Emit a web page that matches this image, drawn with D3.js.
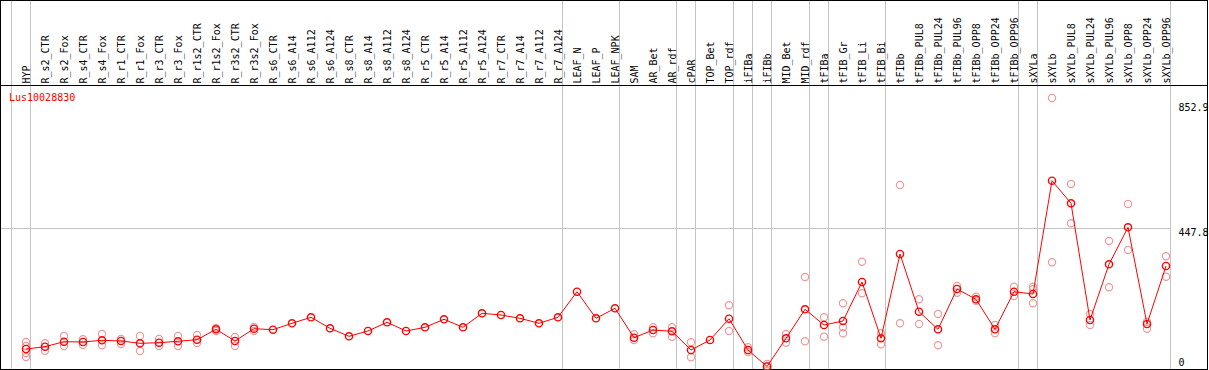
<!DOCTYPE html>
<html>
<head>
<meta charset="utf-8">
<script src="https://cdn.jsdelivr.net/npm/d3@7"></script>
<style>
body { margin: 0; background: #fff; }
text { font-family: 'DejaVu Sans Mono', monospace; font-size: 10px; }
</style>
</head>
<body>
<div id="chart"></div>
<script>
var geneName = 'Lus10028830';

var samples = ['HYP', 'R_s2_CTR', 'R_s2_Fox', 'R_s4_CTR', 'R_s4_Fox', 'R_r1_CTR', 'R_r1_Fox',
  'R_r3_CTR', 'R_r3_Fox', 'R_r1s2_CTR', 'R_r1s2_Fox', 'R_r3s2_CTR', 'R_r3s2_Fox', 'R_s6_CTR',
  'R_s6_A14', 'R_s6_A112', 'R_s6_A124', 'R_s8_CTR', 'R_s8_A14', 'R_s8_A112', 'R_s8_A124',
  'R_r5_CTR', 'R_r5_A14', 'R_r5_A112', 'R_r5_A124', 'R_r7_CTR', 'R_r7_A14', 'R_r7_A112',
  'R_r7_A124', 'LEAF_N', 'LEAF_P', 'LEAF_NPK', 'SAM', 'AR_Bet', 'AR_rdf', 'cPAR', 'TOP_Bet',
  'TOP_rdf', 'iFIBa', 'iFIBb', 'MID_Bet', 'MID_rdf', 'tFIBa', 'tFIB_Gr', 'tFIB_Li', 'tFIB_Bi',
  'tFIBb', 'tFIBb_PUL8', 'tFIBb_PUL24', 'tFIBb_PUL96', 'tFIBb_OPP8', 'tFIBb_OPP24',
  'tFIBb_OPP96', 'sXYLa', 'sXYLb', 'sXYLb_PUL8', 'sXYLb_PUL24', 'sXYLb_PUL96', 'sXYLb_OPP8',
  'sXYLb_OPP24', 'sXYLb_OPP96'];

// mean expression per sample
var means = [56.6, 64.0, 80.2, 79.2, 84.7, 82.4, 75.0, 76.9, 81.5, 86.6, 120.3, 82.4, 122.2,
  119.0, 139.7, 159.1, 123.5, 97.6, 114.8, 142.9, 114.8, 126.7, 152.6, 126.7, 172.0, 166.5,
  155.8, 139.7, 159.1, 241.8, 155.8, 188.2, 93.1, 118.0, 113.8, 53.3, 85.7, 154.5, 53.3, 0,
  91.2, 184.9, 134.2, 147.1, 273.2, 91.2, 363.7, 177.2, 120.3, 250.6, 217.3, 120.3, 241.8,
  234.4, 600.7, 527.6, 150.3, 330.4, 450.0, 137.4, 324.9];

// individual replicates (empty where hidden under the mean)
var replicates = [
  [79.2, 66.3, 43.6, 30.7], [75.0, 51.1], [98.6, 66.3], [87.9, 69.5], [105.1, 68.5],
  [88.9, 72.7], [98.6, 50.1], [88.9, 66.3], [98.6, 66.3], [101.8, 76.0], [124.5, 114.8],
  [95.4, 66.3], [127.7, 114.8], [], [], [], [], [], [], [], [], [], [], [], [], [], [], [],
  [], [], [], [], [104.1, 85.7], [126.7, 107.3], [126.7, 96.3], [78.2, 29.7], [],
  [197.9, 114.8], [62.1, 46.9], [8.1, 0], [105.1, 76.9], [289.4, 81.5], [159.1, 96.3],
  [204.3, 126.7, 107.3], [338.8, 236.7], [107.3, 71.8], [586.8, 139.7], [217.3, 137.4],
  [169.7, 68.5], [260.3, 238.6], [225.7, 212.7], [134.2, 107.3], [258.0, 227.9],
  [258.0, 249.6, 204.3], [868.1, 336.9], [590.0, 463.0], [169.7, 134.2], [405.8, 256.1],
  [525.4, 376.7], [144.8, 122.2], [356.3, 290.3]];

// a grey separator is drawn after each of these samples
var groupEnds = ['HYP', 'R_r7_A124', 'LEAF_NPK', 'AR_rdf', 'cPAR', 'TOP_rdf', 'iFIBa', 'iFIBb',
  'MID_rdf', 'tFIBa', 'tFIB_Bi', 'tFIBb_OPP96', 'sXYLa', 'sXYLb_OPP96'];

var yTicks = [0, 447.8, 852.9];

var width = 1209;
var height = 370;
var headerY = 85.5;

var x = d3.scalePoint().domain(samples).range([26, 1166]);
var y = d3.scaleLinear().domain([0, 852.9]).range([366.5, 102.7]);

var svg = d3.select('#chart').append('svg')
  .attr('width', width)
  .attr('height', height);

// separators
var sepX = [x(samples[0]) - x.step() + 4.5].concat(groupEnds.map(function(s) {
  return x(s) + 4.5;
}));
svg.selectAll().data(sepX).enter()
  .append('line')
  .attr('x1', function(d) { return d; })
  .attr('x2', function(d) { return d; })
  .attr('y1', 0)
  .attr('y2', height)
  .attr('stroke', '#c4c4c4')
  .attr('shape-rendering', 'crispEdges');

// horizontal guide at the middle tick
svg.selectAll().data(yTicks.filter(function(v) { return v > 0 && v < 852.9; })).enter()
  .append('line')
  .attr('x1', 0)
  .attr('x2', x(samples[samples.length - 1]) + 4.5)
  .attr('y1', function(d) { return Math.round(y(d)) + 0.5; })
  .attr('y2', function(d) { return Math.round(y(d)) + 0.5; })
  .attr('stroke', '#c4c4c4')
  .attr('shape-rendering', 'crispEdges');

// frame and header rule
svg.append('rect')
  .attr('x', 0.5).attr('y', 0.5)
  .attr('width', 1207).attr('height', 369)
  .attr('fill', 'none')
  .attr('stroke', '#000')
  .attr('shape-rendering', 'crispEdges');

svg.append('line')
  .attr('x1', 0).attr('x2', 1207.5)
  .attr('y1', headerY).attr('y2', headerY)
  .attr('stroke', '#000')
  .attr('shape-rendering', 'crispEdges');

// rotated sample labels
svg.selectAll().data(samples).enter()
  .append('text')
  .attr('transform', function(d) {
    return 'translate(' + (x(d) + 3.5) + ',83.5) rotate(-90)';
  })
  .attr('fill', '#000')
  .text(function(d) { return d; });

// y labels on the right
svg.selectAll().data(yTicks).enter()
  .append('text')
  .attr('x', 1178.5)
  .attr('y', function(d) {
    var yy = y(d) + 8.5;
    return yy > 367 ? 366 : yy;
  })
  .attr('fill', '#000')
  .text(function(d) { return d; });

svg.append('text')
  .attr('x', 9)
  .attr('y', 101)
  .attr('fill', '#ff0000')
  .text(geneName);

// replicate points
var reps = [];
replicates.forEach(function(r, i) {
  r.forEach(function(v) { reps.push({sample: samples[i], value: v}); });
});
svg.selectAll().data(reps).enter()
  .append('circle')
  .attr('cx', function(d) { return x(d.sample); })
  .attr('cy', function(d) { return y(d.value); })
  .attr('r', 3.6)
  .attr('fill', 'none')
  .attr('stroke', '#ec9a9a')
  .attr('stroke-width', 1.2);

// mean line and markers
var line = d3.line()
  .x(function(d, i) { return x(samples[i]); })
  .y(function(d) { return y(d); });

svg.append('path')
  .attr('d', line(means))
  .attr('fill', 'none')
  .attr('stroke', '#ff0000')
  .attr('stroke-width', 1);

svg.selectAll().data(means).enter()
  .append('circle')
  .attr('cx', function(d, i) { return x(samples[i]); })
  .attr('cy', function(d) { return y(d); })
  .attr('r', 3.6)
  .attr('fill', 'none')
  .attr('stroke', '#ff0000')
  .attr('stroke-width', 1.4);
</script>
</body>
</html>
